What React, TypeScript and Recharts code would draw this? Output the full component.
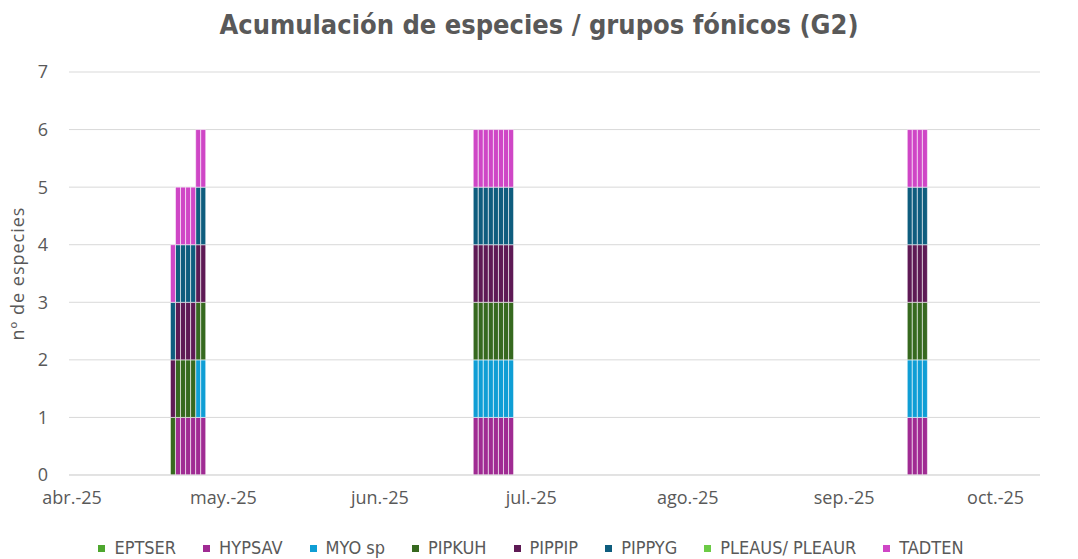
import React from 'react';
import { BarChart, Bar, XAxis, YAxis, CartesianGrid } from 'recharts';

// fechas de muestreo (un día = una columna)
const fechas = [
  '2025-04-21', '2025-04-22', '2025-04-23', '2025-04-24', '2025-04-25', '2025-04-26', '2025-04-27',
  '2025-06-20', '2025-06-21', '2025-06-22', '2025-06-23', '2025-06-24', '2025-06-25', '2025-06-26', '2025-06-27',
  '2025-09-14', '2025-09-15', '2025-09-16', '2025-09-17',
];

const especies = ['EPTSER', 'HYPSAV', 'MYO sp', 'PIPKUH', 'PIPPIP', 'PIPPYG', 'PLEAUS/ PLEAUR', 'TADTEN'];
const colores = ['#4EA72E', '#A02B93', '#0F9ED5', '#36691F', '#5E1A55', '#0E5D7E', '#6CCB46', '#CF46C6'];

const EPTSER = [0, 0, 0, 0, 0, 0, 0, 0, 0, 0, 0, 0, 0, 0, 0, 0, 0, 0, 0];
const HYPSAV = [0, 1, 1, 1, 1, 1, 1, 1, 1, 1, 1, 1, 1, 1, 1, 1, 1, 1, 1];
const MYO_SP = [0, 0, 0, 0, 0, 1, 1, 1, 1, 1, 1, 1, 1, 1, 1, 1, 1, 1, 1];
const PIPKUH = [1, 1, 1, 1, 1, 1, 1, 1, 1, 1, 1, 1, 1, 1, 1, 1, 1, 1, 1];
const PIPPIP = [1, 1, 1, 1, 1, 1, 1, 1, 1, 1, 1, 1, 1, 1, 1, 1, 1, 1, 1];
const PIPPYG = [1, 1, 1, 1, 1, 1, 1, 1, 1, 1, 1, 1, 1, 1, 1, 1, 1, 1, 1];
const PLEAUS = [0, 0, 0, 0, 0, 0, 0, 0, 0, 0, 0, 0, 0, 0, 0, 0, 0, 0, 0];
const TADTEN = [1, 1, 1, 1, 1, 1, 1, 1, 1, 1, 1, 1, 1, 1, 1, 1, 1, 1, 1];

const valores = [EPTSER, HYPSAV, MYO_SP, PIPKUH, PIPPIP, PIPPYG, PLEAUS, TADTEN];

const mesesTicks = ['2025-04-01', '2025-05-01', '2025-06-01', '2025-07-01', '2025-08-01', '2025-09-01', '2025-10-01'];
const mesesLabels = ['abr.-25', 'may.-25', 'jun.-25', 'jul.-25', 'ago.-25', 'sep.-25', 'oct.-25'];
const yTicks = [0, 1, 2, 3, 4, 5, 6, 7];

const ORIGEN = Date.parse('2025-04-01');
const dia = (f: string) => Math.round((Date.parse(f) - ORIGEN) / 86400000);

const data = fechas.map((f, i) => {
  const row: Record<string, number> = { dia: dia(f) };
  especies.forEach((e, k) => {
    row[e] = valores[k][i];
  });
  return row;
});

const tickDias = mesesTicks.map(dia);

const GRIS = '#595959';
const FUENTE = '"Open Sans", "Liberation Sans", sans-serif';
const NARROW = '"Liberation Sans Narrow", "DejaVu Sans Condensed", "Liberation Sans", sans-serif';

export default function App() {
  return (
    <div style={{ position: 'absolute', left: 0, top: 0, width: 1078, height: 559, background: '#fff' }}>
      <div
        style={{
          position: 'absolute',
          top: 9,
          left: 0,
          width: 1078,
          textAlign: 'center',
          fontFamily: NARROW,
          fontWeight: 700,
          fontSize: 27,
          lineHeight: '32px',
          color: GRIS,
        }}
      >
        Acumulación de especies / grupos fónicos (G2)
      </div>

      <BarChart
        width={1078}
        height={559}
        data={data}
        margin={{ top: 72, right: 38, left: 0, bottom: 44 }}
      >
        <CartesianGrid vertical={false} stroke="#d9d9d9" />
        <XAxis
          dataKey="dia"
          type="number"
          domain={[-0.6, 191.8]}
          ticks={tickDias}
          tickFormatter={(v: number) => mesesLabels[tickDias.indexOf(v)] ?? ''}
          axisLine={{ stroke: '#d9d9d9' }}
          tickLine={false}
          tickMargin={10}
          height={40}
          tick={{ fill: GRIS, fontSize: 18, fontFamily: FUENTE }}
          allowDataOverflow
        />
        <YAxis
          domain={[0, 7]}
          ticks={yTicks}
          interval={0}
          axisLine={false}
          tickLine={false}
          tickSize={0}
          tickMargin={21}
          width={69}
          tick={{ fill: GRIS, fontSize: 18, fontFamily: FUENTE }}
          label={{
            value: 'nº de especies',
            angle: -90,
            position: 'insideLeft',
            offset: 18,
            fill: GRIS,
            fontSize: 18,
            fontFamily: FUENTE,
            letterSpacing: 1,
            style: { textAnchor: 'middle' },
          }}
        />
        {especies.map((e, k) => (
          <Bar
            key={e}
            dataKey={e}
            name={e}
            stackId="a"
            fill={colores[k]}
            stroke="#ffffff"
            strokeWidth={0.7}
            strokeOpacity={0.8}
            barSize={5}
            isAnimationActive={false}
          />
        ))}
      </BarChart>

      <div
        style={{
          position: 'absolute',
          top: 537,
          left: 0,
          width: 1078,
          display: 'flex',
          justifyContent: 'center',
          gap: 27,
          paddingRight: 16,
          boxSizing: 'border-box',
          fontFamily: NARROW,
          fontSize: 18,
          lineHeight: '22px',
          color: GRIS,
        }}
      >
        {especies.map((e, k) => (
          <div key={e} style={{ display: 'flex', alignItems: 'center', gap: 9 }}>
            <span style={{ width: 7, height: 7, background: colores[k], display: 'inline-block' }} />
            <span>{e}</span>
          </div>
        ))}
      </div>
    </div>
  );
}
